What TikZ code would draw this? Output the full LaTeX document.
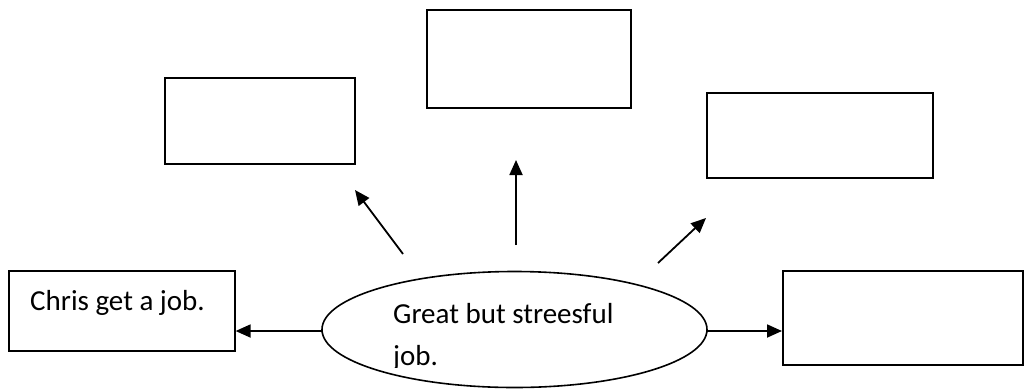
\documentclass[tikz,border=0pt]{standalone}
\usepackage{fontspec}
\setmainfont{Carlito}
\usetikzlibrary{arrows.meta}
\begin{document}
\begin{tikzpicture}[x=1pt,y=-1pt,
  box/.style={draw=black,line width=1.6pt,rectangle,inner sep=0pt,anchor=north west},
  arr/.style={line width=1.8pt,-{Triangle[length=15pt,width=13pt]}},
  txt/.style={font=\fontsize{29}{42}\selectfont,inner sep=0pt,anchor=base west}]
\useasboundingbox (0,0) rectangle (1025,389);
\begin{scope}
\clip (0,0) rectangle (1025,389);
\node[box,minimum width=226pt,minimum height=80pt] (chris) at (8,270) {};
\node[txt] (christ) at (30,310) {Chris get a job.};
\node[box,minimum width=190pt,minimum height=86pt] (b1) at (164,77) {};
\node[box,minimum width=204pt,minimum height=98pt] (b2) at (426,9) {};
\node[box,minimum width=226pt,minimum height=85pt] (b3) at (706,92) {};
\node[box,minimum width=240pt,minimum height=94pt] (b4) at (782,270) {};
\coordinate (ell) at (514.5,329.5);
\draw[line width=1.6pt] (ell) ellipse [x radius=192.5, y radius=58];
\coordinate (ellW) at (322,331);
\coordinate (ellE) at (707,331);
\node[txt] (ellt1) at (393,323) {Great but streesful};
\begin{scope}
\clip (380,300) rectangle (700,367);
\node[txt] (ellt2) at (393,365) {job.};
\end{scope}
\coordinate (a1s) at (403,254);
\coordinate (a1e) at (355,190);
\coordinate (a2s) at (516,245);
\coordinate (a2e) at (516,160);
\coordinate (a3s) at (658,263);
\coordinate (a3e) at (706,218);
\draw[arr] (ellW) -- (ellW -| chris.east);
\draw[arr] (ellE) -- (ellE -| b4.west);
\draw[arr] (a1s) -- (a1e);
\draw[arr] (a2s) -- (a2e);
\draw[arr] (a3s) -- (a3e);
\end{scope}
\end{tikzpicture}
\end{document}
